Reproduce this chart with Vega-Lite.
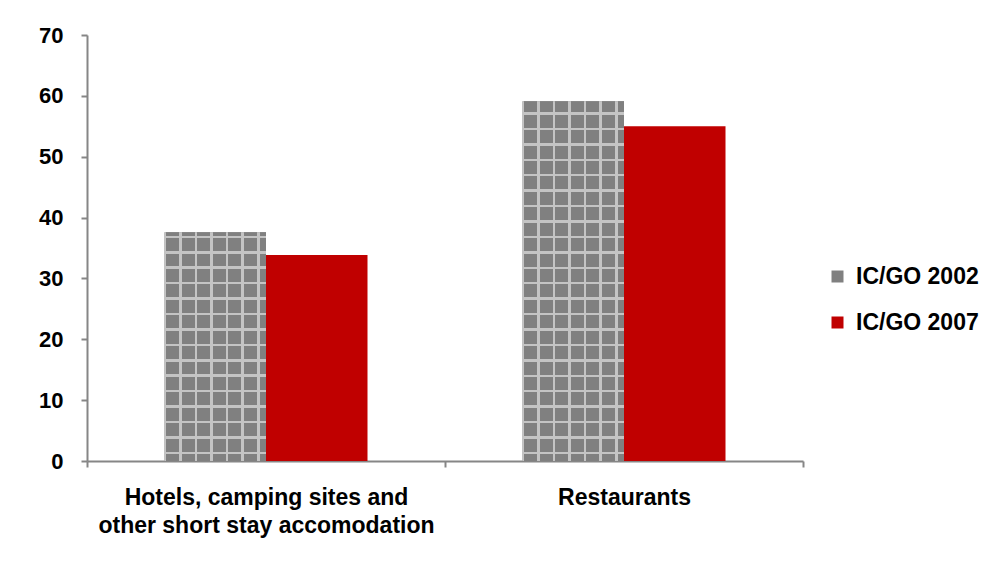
{
  "$schema": "https://vega.github.io/schema/vega-lite/v6.json",
  "autosize": {"type": "none"},
  "padding": {"left": 87, "top": 35, "right": 205, "bottom": 103},
  "width": 716,
  "height": 426,
  "background": "white",
  "config": {
    "view": {"stroke": null},
    "font": "Liberation Sans",
    "axis": {"labelFont": "Liberation Sans", "labelFontWeight": "bold", "labelColor": "#000000", "domainColor": "#868686", "tickColor": "#868686", "domainWidth": 2, "tickWidth": 2, "grid": false, "title": null}
  },
  "data": {
    "values": [
      {"category": "Hotels, camping sites and\nother short stay accomodation", "series": "IC/GO 2002", "value": 37.6},
      {"category": "Hotels, camping sites and\nother short stay accomodation", "series": "IC/GO 2007", "value": 33.85},
      {"category": "Restaurants", "series": "IC/GO 2002", "value": 59.1},
      {"category": "Restaurants", "series": "IC/GO 2007", "value": 55.0}
    ]
  },
  "encoding": {
    "x": {
      "field": "category", "type": "nominal", "sort": null,
      "scale": {"paddingInner": 0, "paddingOuter": 0},
      "axis": {"labelAngle": 0, "labelFontSize": 23, "labelLineHeight": 28, "labelExpr": "split(datum.label, '\\n')", "tickBand": "extent", "tickSize": 6, "labelPadding": 19, "labelLimit": 0}
    },
    "xOffset": {"field": "series", "type": "nominal", "scale": {"paddingInner": 0, "paddingOuter": 0.7635}},
    "y": {
      "field": "value", "type": "quantitative",
      "scale": {"domain": [0, 70], "nice": false},
      "axis": {"values": [0, 10, 20, 30, 40, 50, 60, 70], "labelFontSize": 22, "tickSize": 6, "labelPadding": 18}
    }
  },
  "layer": [
    {
      "mark": {"type": "bar", "strokeWidth": 0},
      "encoding": {
        "color": {
          "field": "series", "type": "nominal",
          "scale": {"domain": ["IC/GO 2002", "IC/GO 2007"], "range": ["#808080", "#C00000"]},
          "legend": {"title": null, "orient": "none", "legendX": 739, "legendY": 230, "symbolType": "square", "symbolSize": 144, "symbolStrokeWidth": 0, "labelFontSize": 23, "labelFontWeight": "bold", "labelColor": "#000000", "labelOffset": 7, "rowPadding": 22, "padding": 0}
        }
      }
    },
    {
      "transform": [{"filter": "datum.series === 'IC/GO 2002'"}],
      "mark": {"type": "bar", "strokeWidth": 0, "fill": {"gradient": "linear", "x1": 0, "y1": 0, "x2": 1, "y2": 0, "stops": [
        {"offset": 0, "color": "#c4c4c4"}, {"offset": 0.0197, "color": "#c4c4c4"}, {"offset": 0.0197, "color": "#808080"},
        {"offset": 0.1478, "color": "#808080"}, {"offset": 0.1478, "color": "#c4c4c4"}, {"offset": 0.1724, "color": "#c4c4c4"}, {"offset": 0.1724, "color": "#808080"},
        {"offset": 0.3005, "color": "#808080"}, {"offset": 0.3005, "color": "#c4c4c4"}, {"offset": 0.3251, "color": "#c4c4c4"}, {"offset": 0.3251, "color": "#808080"},
        {"offset": 0.4532, "color": "#808080"}, {"offset": 0.4532, "color": "#c4c4c4"}, {"offset": 0.4778, "color": "#c4c4c4"}, {"offset": 0.4778, "color": "#808080"},
        {"offset": 0.6059, "color": "#808080"}, {"offset": 0.6059, "color": "#c4c4c4"}, {"offset": 0.6305, "color": "#c4c4c4"}, {"offset": 0.6305, "color": "#808080"},
        {"offset": 0.7586, "color": "#808080"}, {"offset": 0.7586, "color": "#c4c4c4"}, {"offset": 0.7833, "color": "#c4c4c4"}, {"offset": 0.7833, "color": "#808080"},
        {"offset": 0.9113, "color": "#808080"}, {"offset": 0.9113, "color": "#c4c4c4"}, {"offset": 0.9360, "color": "#c4c4c4"}, {"offset": 0.9360, "color": "#808080"},
        {"offset": 1, "color": "#808080"}
      ]}}
    },
    {
      "transform": [{"filter": "datum.series === 'IC/GO 2002' && datum.category !== 'Restaurants'"}],
      "mark": {"type": "bar", "strokeWidth": 0, "fill": {"gradient": "linear", "x1": 0, "y1": 0, "x2": 0, "y2": 1, "stops": [
        {"offset": 0, "color": "rgba(196,196,196,0)"},
        {"offset": 0.0149, "color": "rgba(196,196,196,0)"}, {"offset": 0.0149, "color": "#c4c4c4"}, {"offset": 0.0258, "color": "#c4c4c4"}, {"offset": 0.0258, "color": "rgba(196,196,196,0)"},
        {"offset": 0.0823, "color": "rgba(196,196,196,0)"}, {"offset": 0.0823, "color": "#c4c4c4"}, {"offset": 0.0932, "color": "#c4c4c4"}, {"offset": 0.0932, "color": "rgba(196,196,196,0)"},
        {"offset": 0.1497, "color": "rgba(196,196,196,0)"}, {"offset": 0.1497, "color": "#c4c4c4"}, {"offset": 0.1606, "color": "#c4c4c4"}, {"offset": 0.1606, "color": "rgba(196,196,196,0)"},
        {"offset": 0.2172, "color": "rgba(196,196,196,0)"}, {"offset": 0.2172, "color": "#c4c4c4"}, {"offset": 0.2281, "color": "#c4c4c4"}, {"offset": 0.2281, "color": "rgba(196,196,196,0)"},
        {"offset": 0.2846, "color": "rgba(196,196,196,0)"}, {"offset": 0.2846, "color": "#c4c4c4"}, {"offset": 0.2955, "color": "#c4c4c4"}, {"offset": 0.2955, "color": "rgba(196,196,196,0)"},
        {"offset": 0.3521, "color": "rgba(196,196,196,0)"}, {"offset": 0.3521, "color": "#c4c4c4"}, {"offset": 0.3630, "color": "#c4c4c4"}, {"offset": 0.3630, "color": "rgba(196,196,196,0)"},
        {"offset": 0.4195, "color": "rgba(196,196,196,0)"}, {"offset": 0.4195, "color": "#c4c4c4"}, {"offset": 0.4304, "color": "#c4c4c4"}, {"offset": 0.4304, "color": "rgba(196,196,196,0)"},
        {"offset": 0.4869, "color": "rgba(196,196,196,0)"}, {"offset": 0.4869, "color": "#c4c4c4"}, {"offset": 0.4978, "color": "#c4c4c4"}, {"offset": 0.4978, "color": "rgba(196,196,196,0)"},
        {"offset": 0.5544, "color": "rgba(196,196,196,0)"}, {"offset": 0.5544, "color": "#c4c4c4"}, {"offset": 0.5653, "color": "#c4c4c4"}, {"offset": 0.5653, "color": "rgba(196,196,196,0)"},
        {"offset": 0.6218, "color": "rgba(196,196,196,0)"}, {"offset": 0.6218, "color": "#c4c4c4"}, {"offset": 0.6327, "color": "#c4c4c4"}, {"offset": 0.6327, "color": "rgba(196,196,196,0)"},
        {"offset": 0.6893, "color": "rgba(196,196,196,0)"}, {"offset": 0.6893, "color": "#c4c4c4"}, {"offset": 0.7002, "color": "#c4c4c4"}, {"offset": 0.7002, "color": "rgba(196,196,196,0)"},
        {"offset": 0.7567, "color": "rgba(196,196,196,0)"}, {"offset": 0.7567, "color": "#c4c4c4"}, {"offset": 0.7676, "color": "#c4c4c4"}, {"offset": 0.7676, "color": "rgba(196,196,196,0)"},
        {"offset": 0.8241, "color": "rgba(196,196,196,0)"}, {"offset": 0.8241, "color": "#c4c4c4"}, {"offset": 0.8350, "color": "#c4c4c4"}, {"offset": 0.8350, "color": "rgba(196,196,196,0)"},
        {"offset": 0.8916, "color": "rgba(196,196,196,0)"}, {"offset": 0.8916, "color": "#c4c4c4"}, {"offset": 0.9025, "color": "#c4c4c4"}, {"offset": 0.9025, "color": "rgba(196,196,196,0)"},
        {"offset": 0.9590, "color": "rgba(196,196,196,0)"}, {"offset": 0.9590, "color": "#c4c4c4"}, {"offset": 0.9699, "color": "#c4c4c4"}, {"offset": 0.9699, "color": "rgba(196,196,196,0)"},
        {"offset": 1, "color": "rgba(196,196,196,0)"}
      ]}}
    },
    {
      "transform": [{"filter": "datum.series === 'IC/GO 2002' && datum.category === 'Restaurants'"}],
      "mark": {"type": "bar", "strokeWidth": 0, "fill": {"gradient": "linear", "x1": 0, "y1": 0, "x2": 0, "y2": 1, "stops": [
        {"offset": 0, "color": "rgba(196,196,196,0)"},
        {"offset": 0.0303, "color": "rgba(196,196,196,0)"}, {"offset": 0.0303, "color": "#c4c4c4"}, {"offset": 0.0373, "color": "#c4c4c4"}, {"offset": 0.0373, "color": "rgba(196,196,196,0)"},
        {"offset": 0.0732, "color": "rgba(196,196,196,0)"}, {"offset": 0.0732, "color": "#c4c4c4"}, {"offset": 0.0802, "color": "#c4c4c4"}, {"offset": 0.0802, "color": "rgba(196,196,196,0)"},
        {"offset": 0.1161, "color": "rgba(196,196,196,0)"}, {"offset": 0.1161, "color": "#c4c4c4"}, {"offset": 0.1231, "color": "#c4c4c4"}, {"offset": 0.1231, "color": "rgba(196,196,196,0)"},
        {"offset": 0.1590, "color": "rgba(196,196,196,0)"}, {"offset": 0.1590, "color": "#c4c4c4"}, {"offset": 0.1660, "color": "#c4c4c4"}, {"offset": 0.1660, "color": "rgba(196,196,196,0)"},
        {"offset": 0.2019, "color": "rgba(196,196,196,0)"}, {"offset": 0.2019, "color": "#c4c4c4"}, {"offset": 0.2089, "color": "#c4c4c4"}, {"offset": 0.2089, "color": "rgba(196,196,196,0)"},
        {"offset": 0.2448, "color": "rgba(196,196,196,0)"}, {"offset": 0.2448, "color": "#c4c4c4"}, {"offset": 0.2518, "color": "#c4c4c4"}, {"offset": 0.2518, "color": "rgba(196,196,196,0)"},
        {"offset": 0.2877, "color": "rgba(196,196,196,0)"}, {"offset": 0.2877, "color": "#c4c4c4"}, {"offset": 0.2947, "color": "#c4c4c4"}, {"offset": 0.2947, "color": "rgba(196,196,196,0)"},
        {"offset": 0.3306, "color": "rgba(196,196,196,0)"}, {"offset": 0.3306, "color": "#c4c4c4"}, {"offset": 0.3376, "color": "#c4c4c4"}, {"offset": 0.3376, "color": "rgba(196,196,196,0)"},
        {"offset": 0.3735, "color": "rgba(196,196,196,0)"}, {"offset": 0.3735, "color": "#c4c4c4"}, {"offset": 0.3805, "color": "#c4c4c4"}, {"offset": 0.3805, "color": "rgba(196,196,196,0)"},
        {"offset": 0.4164, "color": "rgba(196,196,196,0)"}, {"offset": 0.4164, "color": "#c4c4c4"}, {"offset": 0.4234, "color": "#c4c4c4"}, {"offset": 0.4234, "color": "rgba(196,196,196,0)"},
        {"offset": 0.4593, "color": "rgba(196,196,196,0)"}, {"offset": 0.4593, "color": "#c4c4c4"}, {"offset": 0.4663, "color": "#c4c4c4"}, {"offset": 0.4663, "color": "rgba(196,196,196,0)"},
        {"offset": 0.5022, "color": "rgba(196,196,196,0)"}, {"offset": 0.5022, "color": "#c4c4c4"}, {"offset": 0.5092, "color": "#c4c4c4"}, {"offset": 0.5092, "color": "rgba(196,196,196,0)"},
        {"offset": 0.5451, "color": "rgba(196,196,196,0)"}, {"offset": 0.5451, "color": "#c4c4c4"}, {"offset": 0.5521, "color": "#c4c4c4"}, {"offset": 0.5521, "color": "rgba(196,196,196,0)"},
        {"offset": 0.5880, "color": "rgba(196,196,196,0)"}, {"offset": 0.5880, "color": "#c4c4c4"}, {"offset": 0.5950, "color": "#c4c4c4"}, {"offset": 0.5950, "color": "rgba(196,196,196,0)"},
        {"offset": 0.6309, "color": "rgba(196,196,196,0)"}, {"offset": 0.6309, "color": "#c4c4c4"}, {"offset": 0.6379, "color": "#c4c4c4"}, {"offset": 0.6379, "color": "rgba(196,196,196,0)"},
        {"offset": 0.6738, "color": "rgba(196,196,196,0)"}, {"offset": 0.6738, "color": "#c4c4c4"}, {"offset": 0.6808, "color": "#c4c4c4"}, {"offset": 0.6808, "color": "rgba(196,196,196,0)"},
        {"offset": 0.7167, "color": "rgba(196,196,196,0)"}, {"offset": 0.7167, "color": "#c4c4c4"}, {"offset": 0.7237, "color": "#c4c4c4"}, {"offset": 0.7237, "color": "rgba(196,196,196,0)"},
        {"offset": 0.7596, "color": "rgba(196,196,196,0)"}, {"offset": 0.7596, "color": "#c4c4c4"}, {"offset": 0.7666, "color": "#c4c4c4"}, {"offset": 0.7666, "color": "rgba(196,196,196,0)"},
        {"offset": 0.8025, "color": "rgba(196,196,196,0)"}, {"offset": 0.8025, "color": "#c4c4c4"}, {"offset": 0.8095, "color": "#c4c4c4"}, {"offset": 0.8095, "color": "rgba(196,196,196,0)"},
        {"offset": 0.8454, "color": "rgba(196,196,196,0)"}, {"offset": 0.8454, "color": "#c4c4c4"}, {"offset": 0.8524, "color": "#c4c4c4"}, {"offset": 0.8524, "color": "rgba(196,196,196,0)"},
        {"offset": 0.8883, "color": "rgba(196,196,196,0)"}, {"offset": 0.8883, "color": "#c4c4c4"}, {"offset": 0.8953, "color": "#c4c4c4"}, {"offset": 0.8953, "color": "rgba(196,196,196,0)"},
        {"offset": 0.9312, "color": "rgba(196,196,196,0)"}, {"offset": 0.9312, "color": "#c4c4c4"}, {"offset": 0.9382, "color": "#c4c4c4"}, {"offset": 0.9382, "color": "rgba(196,196,196,0)"},
        {"offset": 0.9741, "color": "rgba(196,196,196,0)"}, {"offset": 0.9741, "color": "#c4c4c4"}, {"offset": 0.9811, "color": "#c4c4c4"}, {"offset": 0.9811, "color": "rgba(196,196,196,0)"},
        {"offset": 1, "color": "rgba(196,196,196,0)"}
      ]}}
    }
  ]
}
